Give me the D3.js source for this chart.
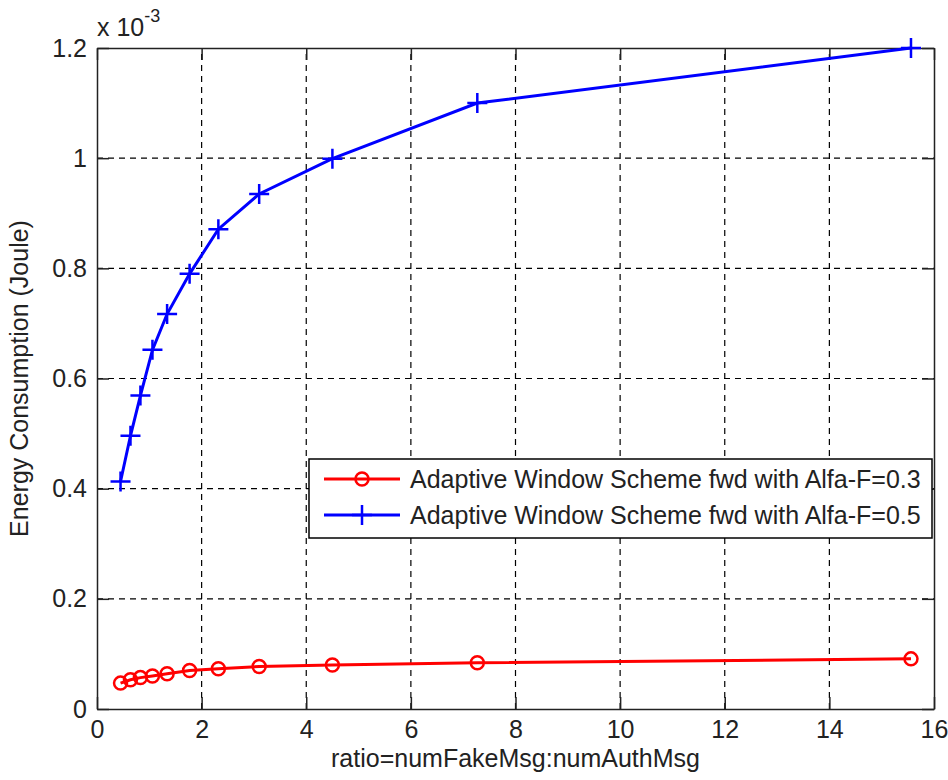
<!DOCTYPE html>
<html>
<head>
<meta charset="utf-8">
<script src="https://cdn.jsdelivr.net/npm/d3@7"></script>
<style>
  html, body { margin: 0; padding: 0; background: #fff; }
  svg text { font-family: "Liberation Sans", Arial, sans-serif; fill: #222; }
</style>
</head>
<body>
<div id="chart"></div>
<script>
// ratio values (x) and energy in units of 1e-3 Joule
const ratios = [0.45, 0.64, 0.83, 1.06, 1.34, 1.77, 2.32, 3.1, 4.5, 7.27, 15.56];
const alfa03 = [0.047, 0.053, 0.057, 0.060, 0.064, 0.070, 0.073, 0.077, 0.080, 0.084, 0.091];
const alfa05 = [0.413, 0.496, 0.569, 0.652, 0.717, 0.790, 0.871, 0.935, 0.999, 1.100, 1.200];
const xTicks = [0, 2, 4, 6, 8, 10, 12, 14, 16];
const yTicks = [0, 0.2, 0.4, 0.6, 0.8, 1, 1.2];
const seriesNames = [
    'Adaptive Window Scheme fwd with Alfa-F=0.3',
    'Adaptive Window Scheme fwd with Alfa-F=0.5'
];

const width = 948, height = 780;
const margin = { left: 97, right: 14, top: 48, bottom: 71 };
const fontSize = '25px';

const svg = d3.select('#chart').append('svg')
    .attr('width', width)
    .attr('height', height);

const x = d3.scaleLinear().domain([0, 16]).range([margin.left, width - margin.right]);
const y = d3.scaleLinear().domain([0, 1.2]).range([height - margin.bottom, margin.top]);

// Grid lines
const grid = svg.append('g')
    .attr('stroke', '#000')
    .attr('stroke-width', 1.2)
    .attr('stroke-dasharray', '6,5');
grid.selectAll('.vg').data(xTicks.slice(1, -1)).join('line')
    .attr('x1', d => x(d)).attr('x2', d => x(d))
    .attr('y1', y(0)).attr('y2', y(1.2));
grid.selectAll('.hg').data(yTicks.slice(1, -1)).join('line')
    .attr('x1', x(0)).attr('x2', x(16))
    .attr('y1', d => y(d)).attr('y2', d => y(d));

// Axes with inward ticks on all four sides
const tickLen = 12;
const fmtY = d => d3.format('~g')(+d.toFixed(1));
function styleAxis(g) {
    g.select('.domain').attr('stroke', '#222').attr('stroke-width', 1.5);
    g.selectAll('.tick line').attr('stroke', '#222').attr('stroke-width', 1.5);
    g.selectAll('.tick text').style('font-size', fontSize).attr('fill', '#222');
}
svg.append('g')
    .attr('transform', `translate(0,${y(0)})`)
    .call(d3.axisBottom(x).tickValues(xTicks).tickSizeInner(-tickLen).tickSizeOuter(0).tickPadding(11))
    .call(styleAxis);
svg.append('g')
    .attr('transform', `translate(0,${y(1.2)})`)
    .call(d3.axisTop(x).tickValues(xTicks).tickSizeInner(-tickLen).tickSizeOuter(0).tickFormat(''))
    .call(styleAxis);
svg.append('g')
    .attr('transform', `translate(${x(0)},0)`)
    .call(d3.axisLeft(y).tickValues(yTicks).tickFormat(fmtY).tickSizeInner(-tickLen).tickSizeOuter(0).tickPadding(10))
    .call(styleAxis);
svg.append('g')
    .attr('transform', `translate(${x(16)},0)`)
    .call(d3.axisRight(y).tickValues(yTicks).tickSizeInner(-tickLen).tickSizeOuter(0).tickFormat(''))
    .call(styleAxis);

// Lines
const line = d3.line().x(d => x(d[0])).y(d => y(d[1]));
const redData = ratios.map((r, i) => [r, alfa03[i]]);
const blueData = ratios.map((r, i) => [r, alfa05[i]]);

svg.append('path').datum(redData)
    .attr('d', line).attr('fill', 'none')
    .attr('stroke', '#ff0000').attr('stroke-width', 3);
svg.append('path').datum(blueData)
    .attr('d', line).attr('fill', 'none')
    .attr('stroke', '#0000ff').attr('stroke-width', 3);

// Markers
svg.append('g').selectAll('circle').data(redData).join('circle')
    .attr('cx', d => x(d[0])).attr('cy', d => y(d[1]))
    .attr('r', 6.5)
    .attr('fill', 'none').attr('stroke', '#ff0000').attr('stroke-width', 2.5);

const plus = 10;
svg.append('g').selectAll('path').data(blueData).join('path')
    .attr('d', d => `M${x(d[0]) - plus},${y(d[1])}h${2 * plus}M${x(d[0])},${y(d[1]) - plus}v${2 * plus}`)
    .attr('stroke', '#0000ff').attr('stroke-width', 2.5);

// Multiplier label
const mult = svg.append('text')
    .attr('x', 97).attr('y', 36)
    .style('font-size', fontSize);
mult.append('tspan').text('x 10');
mult.append('tspan').attr('dy', -14).style('font-size', '18px').text('-3');

// Axis titles
svg.append('text')
    .attr('x', (x(0) + x(16)) / 2).attr('y', 767)
    .attr('text-anchor', 'middle')
    .style('font-size', fontSize)
    .text('ratio=numFakeMsg:numAuthMsg');
svg.append('text')
    .attr('transform', `translate(28,${(y(0) + y(1.2)) / 2}) rotate(-90)`)
    .attr('text-anchor', 'middle')
    .style('font-size', fontSize)
    .text('Energy Consumption (Joule)');

// Legend
const lg = svg.append('g').attr('transform', 'translate(309,459)');
lg.append('rect')
    .attr('width', 623).attr('height', 79)
    .attr('fill', '#fff').attr('stroke', '#000').attr('stroke-width', 1.5);
const rows = [
    { name: seriesNames[0], color: '#ff0000', marker: 'o', yy: 20 },
    { name: seriesNames[1], color: '#0000ff', marker: '+', yy: 56 }
];
rows.forEach(r => {
    lg.append('line')
        .attr('x1', 15).attr('x2', 91).attr('y1', r.yy).attr('y2', r.yy)
        .attr('stroke', r.color).attr('stroke-width', 3);
    if (r.marker === 'o') {
        lg.append('circle').attr('cx', 53).attr('cy', r.yy).attr('r', 6.5)
            .attr('fill', 'none').attr('stroke', r.color).attr('stroke-width', 2.5);
    } else {
        lg.append('path')
            .attr('d', `M${53 - plus},${r.yy}h${2 * plus}M53,${r.yy - plus}v${2 * plus}`)
            .attr('stroke', r.color).attr('stroke-width', 2.5);
    }
    lg.append('text')
        .attr('x', 101).attr('y', r.yy + 9)
        .style('font-size', fontSize)
        .text(r.name);
});
</script>
</body>
</html>
